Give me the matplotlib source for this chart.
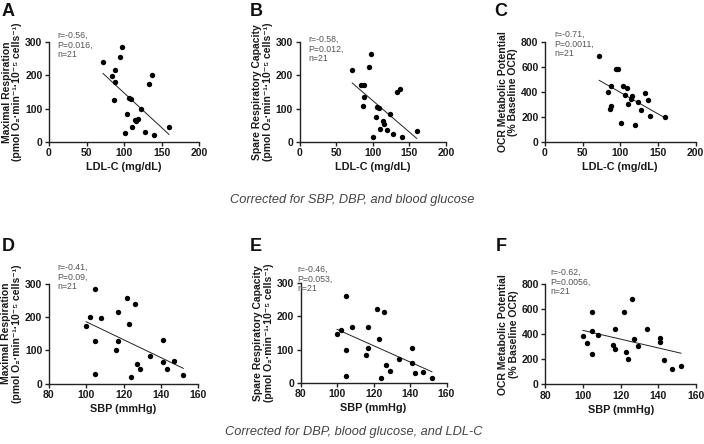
import matplotlib
matplotlib.use("Agg")
import matplotlib.pyplot as plt
import numpy as np

plt.rcParams['font.family'] = ['Liberation Sans', 'DejaVu Sans']

# ---------------- data ----------------
ldl = [72, 97, 95, 88, 84, 88, 87, 106, 109, 137, 133, 123, 104, 114, 116, 119, 110, 101, 128, 140, 160]
maxresp_ldl = [240, 286, 257, 217, 198, 179, 127, 133, 128, 200, 175, 100, 83, 66, 62, 69, 44, 26, 30, 20, 45]
spare_ldl = [215, 264, 225, 170, 170, 135, 109, 106, 103, 160, 150, 85, 74, 63, 54, 34, 38, 15, 23, 14, 31]
ocr_ldl = [693, 585, 585, 448, 397, 290, 266, 376, 435, 338, 395, 322, 451, 341, 365, 132, 303, 148, 252, 209, 196]

sbp = [100, 102, 105, 105, 105, 108, 117, 117, 116, 122, 126, 123, 127, 129, 124, 134, 141, 141, 143, 147, 152]
maxresp_sbp = [173, 199, 285, 127, 28, 197, 216, 127, 101, 257, 240, 178, 59, 43, 19, 83, 131, 65, 44, 67, 25]
spare_sbp = [148, 158, 263, 100, 21, 168, 168, 106, 83, 223, 214, 133, 52, 36, 13, 72, 104, 60, 29, 31, 14]
ocr_sbp = [387, 331, 579, 424, 245, 392, 440, 280, 312, 576, 683, 256, 365, 304, 203, 443, 368, 336, 192, 125, 144]

# fitted line values at min / max x
fit_A = [206, 22]
fit_B = [177, 10]
fit_C = [494, 190]
fit_D = [186, 46]
fit_E = [161, 33]
fit_F = [430, 248]

stats_A = "r=-0.56,\nP=0.016,\nn=21"
stats_B = "r=-0.58,\nP=0.012,\nn=21"
stats_C = "r=-0.71,\nP=0.0011,\nn=21"
stats_D = "r=-0.41,\nP=0.09,\nn=21"
stats_E = "r=-0.46,\nP=0.053,\nn=21"
stats_F = "r=-0.62,\nP=0.0056,\nn=21"

ylab_max = "Maximal Respiration\n(pmol O\u2082\u00b7min\u207b\u00b9\u00b710\u207b\u2075 cells\u207b\u00b9)"
ylab_spare = "Spare Respiratory Capacity\n(pmol O\u2082\u00b7min\u207b\u00b9\u00b710\u207b\u2075 cells\u207b\u00b9)"
ylab_ocr = "OCR Metabolic Potential\n(% Baseline OCR)"

ldl_ticks = [0, 50, 100, 150, 200]
sbp_ticks = [80, 100, 120, 140, 160]
resp_ticks = [0, 100, 200, 300]
ocr_ticks = [0, 200, 400, 600, 800]

caption1 = "Corrected for SBP, DBP, and blood glucose"
caption2 = "Corrected for DBP, blood glucose, and LDL-C"

# ---------------- figure ----------------
W, H = 704, 444
fig = plt.figure(figsize=(W / 100, H / 100), dpi=100)


def px_axes(left, right, top, bottom):
    return fig.add_axes([left / W, 1 - bottom / H, (right - left) / W, (bottom - top) / H])


panels = [
    ("A", (49, 199, 42.3, 141.7), (2, 3), ldl, maxresp_ldl, fit_A, ldl_ticks, resp_ticks, "LDL-C (mg/dL)", ylab_max, stats_A, (57, 31)),
    ("B", (299.5, 446, 42.3, 141.7), (250, 3), ldl, spare_ldl, fit_B, ldl_ticks, resp_ticks, "LDL-C (mg/dL)", ylab_spare, stats_B, (308, 35)),
    ("C", (545, 695.5, 42.3, 141.7), (494, 3), ldl, ocr_ldl, fit_C, ldl_ticks, ocr_ticks, "LDL-C (mg/dL)", ylab_ocr, stats_C, (554, 30)),
    ("D", (48.7, 198.3, 283.7, 383.7), (2, 238), sbp, maxresp_sbp, fit_D, sbp_ticks, resp_ticks, "SBP (mmHg)", ylab_max, stats_D, (57, 263)),
    ("E", (300.5, 446.5, 283.3, 382.7), (250, 238), sbp, spare_sbp, fit_E, sbp_ticks, resp_ticks, "SBP (mmHg)", ylab_spare, stats_E, (297, 265)),
    ("F", (545.3, 696, 284, 384.3), (496, 238), sbp, ocr_sbp, fit_F, sbp_ticks, ocr_ticks, "SBP (mmHg)", ylab_ocr, stats_F, (550, 268)),
]

for letter, box, lpos, xs, ys, fit, xt, yt, xl, yl, st, spos in panels:
    ax = px_axes(*box)
    ax.scatter(xs, ys, s=15, color="black", zorder=3, clip_on=False, linewidths=0)
    fx = [min(xs), max(xs)]
    ax.plot(fx, fit, color="#222222", lw=0.7, zorder=2)
    ax.set_xlim(xt[0], xt[-1])
    ax.set_ylim(yt[0], yt[-1])
    ax.set_xticks(xt)
    ax.set_yticks(yt)
    for s in ["top", "right"]:
        ax.spines[s].set_visible(False)
    for s in ["left", "bottom"]:
        ax.spines[s].set_linewidth(1.0)
        ax.spines[s].set_color("#222222")
    ax.tick_params(length=3.2, width=1.0, color="#222222", pad=1.5, labelsize=7.5)
    for lab in ax.get_xticklabels() + ax.get_yticklabels():
        lab.set_fontweight("bold")
        lab.set_color("#1a1a1a")
    ax.set_xlabel(xl, fontsize=7.8, fontweight="bold", color="#1a1a1a", labelpad=3)
    ax.set_ylabel(yl, fontsize=7.5, fontweight="bold", color="#1a1a1a", labelpad=2, linespacing=1.1)
    fig.text(lpos[0] / W, 1 - lpos[1] / H, letter, fontsize=13, fontweight="bold", va="top", ha="left", color="#111111")
    fig.text(spos[0] / W, 1 - spos[1] / H, st, fontsize=6.3, va="top", ha="left", color="#555555", linespacing=1.1)

fig.text(352 / W, 1 - 200 / H, caption1, fontsize=9.2, style="italic", ha="center", va="center", color="#444444")
fig.text(354 / W, 1 - 432 / H, caption2, fontsize=9.2, style="italic", ha="center", va="center", color="#444444")

fig.savefig("out.png", dpi=100, facecolor="white")
